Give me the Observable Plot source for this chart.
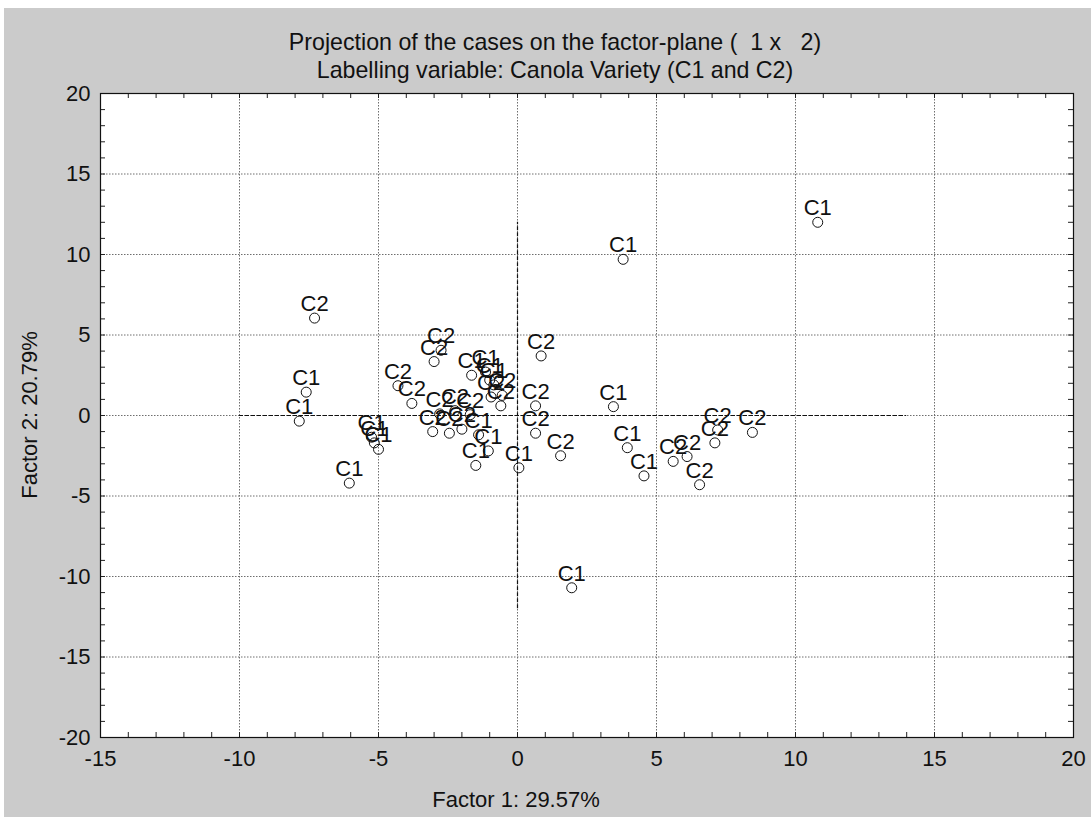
<!DOCTYPE html>
<html>
<head>
<meta charset="utf-8">
<script src="https://cdn.jsdelivr.net/npm/d3@7"></script>
<script src="https://cdn.jsdelivr.net/npm/@observablehq/plot@0.6"></script>
<style>
  html, body { margin: 0; padding: 0; background: #ffffff; }
  #page { position: relative; width: 1091px; height: 817px; overflow: hidden; font-family: "Liberation Sans", Arial, sans-serif; }
  #grey { position: absolute; left: 4px; top: 8px; right: 0; bottom: 0; background: #cbcbcb; }
  .t { position: absolute; white-space: pre; font-size: 22px; line-height: 26px; color: #111; transform: translateX(-50%); }
  .title { font-size: 23.2px; }
  #chart { position: absolute; left: 0; top: 70px; }
  #ylab { position: absolute; left: 30px; top: 415px; font-size: 22px; white-space: pre; transform: translate(-50%, -50%) rotate(-90deg); color: #111; }
</style>
</head>
<body>
<div id="page">
  <div id="grey"></div>
  <div class="t title" style="left:555px; top:29px;">Projection of the cases on the factor-plane (  1 x   2)</div>
  <div class="t title" style="left:555px; top:57px;">Labelling variable: Canola Variety (C1 and C2)</div>
  <div id="chart"></div>
  <div id="ylab">Factor 2: 20.79%</div>
  <div class="t" style="left:516px; top:787px;">Factor 1: 29.57%</div>
</div>
<script>
// Cases: label, Factor 1 score, Factor 2 score
const labels = [
  "C1","C1","C1","C1","C1","C1","C1","C1","C1","C1",
  "C1","C1","C1","C1","C1","C1","C1","C1","C1","C1",
  "C2","C2","C2","C2","C2","C2","C2","C2","C2","C2",
  "C2","C2","C2","C2","C2","C2","C2","C2","C2","C2",
  "C2","C2","C2","C2"
];
const factor1 = [
  10.8, 3.8, 1.95, -7.6, -7.85, -6.05, -5.25, -5.15, -5.0, -1.65,
  -1.15, -1.0, -0.85, -1.4, -1.05, -1.5, 0.05, 3.45, 3.95, 4.55,
  -7.3, -4.3, -3.8, -3.0, -2.75, -3.05, -2.8, -2.45, -2.25, -2.0,
  -1.7, -0.55, -0.95, -0.6, 0.85, 0.65, 0.65, 1.55, 5.6, 6.1,
  6.55, 7.1, 7.2, 8.45
];
const factor2 = [
  12.0, 9.7, -10.7, 1.45, -0.35, -4.2, -1.35, -1.7, -2.1, 2.5,
  2.7, 2.2, 1.9, -1.2, -2.2, -3.1, -3.25, 0.55, -2.0, -3.75,
  6.05, 1.85, 0.75, 3.35, 4.05, -1.0, 0.1, -1.1, 0.3, -0.85,
  0.05, 1.25, 1.15, 0.6, 3.7, 0.6, -1.1, -2.5, -2.85, -2.55,
  -4.3, -1.7, -0.9, -1.05
];

const xTicks = [-15, -10, -5, 0, 5, 10, 15, 20];
const yTicks = [-20, -15, -10, -5, 0, 5, 10, 15, 20];
const xGrid = [-10, -5, 0, 5, 10, 15];
const yGrid = [-15, -10, -5, 0, 5, 10, 15];
const xMinor = d3.range(-15, 21, 1);
const yMinor = d3.range(-20, 21, 1);
const zeroLineX = [-10, 14];   // extent of the horizontal origin line (Factor 1)
const zeroLineY = [-12, 12];   // extent of the vertical origin line (Factor 2)

const cases = labels.map((l, i) => ({label: l, f1: factor1[i], f2: factor2[i]}));

const xDom = [-15, 20], yDom = [-20, 20];
const minorLenY = (yDom[1] - yDom[0]) * 5 / 644;
const minorLenX = (xDom[1] - xDom[0]) * 5 / 973;

const chart = Plot.plot({
  width: 1091,
  height: 747,
  marginLeft: 100,
  marginRight: 18,
  marginTop: 23,
  marginBottom: 80,
  style: {background: "transparent", fontFamily: "'Liberation Sans', Arial, sans-serif", fontSize: "22px", color: "#111"},
  x: {domain: xDom, ticks: xTicks, tickSize: 0, tickPadding: 13, label: null, tickFormat: d => String(d)},
  y: {domain: yDom, ticks: yTicks, tickSize: 0, tickPadding: 10, label: null, tickFormat: d => String(d)},
  marks: [
    Plot.frame({fill: "white", stroke: null}),
    Plot.ruleX(xGrid, {stroke: "#6e6e6e", strokeDasharray: "1.5,1.5", strokeWidth: 1}),
    Plot.ruleY(yGrid, {stroke: "#6e6e6e", strokeDasharray: "1.5,1.5", strokeWidth: 1}),
    Plot.ruleX(xMinor, {y1: yDom[0], y2: yDom[0] + minorLenY, stroke: "#222"}),
    Plot.ruleX(xMinor, {y1: yDom[1], y2: yDom[1] - minorLenY, stroke: "#222"}),
    Plot.ruleY(yMinor, {x1: xDom[0], x2: xDom[0] + minorLenX, stroke: "#222"}),
    Plot.ruleY(yMinor, {x1: xDom[1], x2: xDom[1] - minorLenX, stroke: "#222"}),
    Plot.ruleY([0], {x1: zeroLineX[0], x2: zeroLineX[1], stroke: "#111", strokeDasharray: "4,2", strokeWidth: 1.2}),
    Plot.ruleX([0], {y1: zeroLineY[0], y2: zeroLineY[1], stroke: "#111", strokeDasharray: "4,2", strokeWidth: 1.2}),
    Plot.dot(cases, {x: "f1", y: "f2", r: 5, stroke: "#111", fill: "none", strokeWidth: 1}),
    Plot.text(cases, {x: "f1", y: "f2", text: "label", lineAnchor: "bottom", dy: -7, fontSize: 22, fill: "#111"}),
    Plot.frame({stroke: "#111", strokeWidth: 1.2})
  ]
});
document.getElementById("chart").appendChild(chart);
</script>
</body>
</html>
